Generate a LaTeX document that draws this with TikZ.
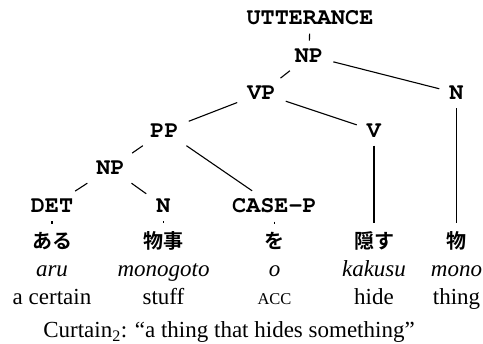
\documentclass[tikz,border=0pt]{standalone}
\usepackage{fontspec}
\setmainfont{Liberation Serif}
\newfontfamily\labfont{TeX Gyre Cursor}
\newfontfamily\jpfont{Noto Sans CJK JP}[BoldFont={Noto Sans CJK JP Bold}]
\begin{document}
\begin{tikzpicture}[x=1pt,y=-1pt,
  cat/.style={font=\labfont\bfseries\fontsize{23.5}{24}\selectfont, anchor=base, inner xsep=10pt, inner ysep=8pt},
  jp/.style={font=\jpfont\bfseries\fontsize{20}{20}\selectfont, anchor=base, inner sep=8pt},
  rom/.style={font=\itshape\fontsize{23}{24}\selectfont, anchor=base, inner sep=0pt},
  gl/.style={font=\fontsize{23}{24}\selectfont, anchor=base, inner sep=0pt},
  edge/.style={draw=black, line width=1.1pt}]
\useasboundingbox (0,0) rectangle (483,344);
\node[cat] (utt) at (310,25) {UTTERANCE};
\node[cat] (np1) at (309,62.5) {NP};
\node[cat] (vp) at (261.5,100) {VP};
\node[cat] (n1) at (456.5,100) {N};
\node[cat] (pp) at (164.5,137.5) {PP};
\node[cat] (v) at (374,137.5) {V};
\node[cat] (np2) at (110.5,175) {NP};
\node[cat] (det) at (52,213) {DET};
\node[cat] (n2) at (163.5,213) {N};
\node[cat] (casep) at (274.5,213) {CASE-P};
\node[jp] (w1) at (52,248.5) {ある};
\node[jp] (w2) at (163.5,248.5) {物事};
\node[jp] (w3) at (274.5,248.5) {を};
\node[jp] (w4) at (374,248.5) {隠す};
\node[jp] (w5) at (456.5,248.5) {物};
\node[rom] (r1) at (52,277) {aru};
\node[rom] (r2) at (163.5,277) {monogoto};
\node[rom] (r3) at (274.5,277) {o};
\node[rom] (r4) at (374,277) {kakusu};
\node[rom] (r5) at (456.5,277) {mono};
\node[gl] (g1) at (52,305) {a certain};
\node[gl] (g2) at (163.5,305) {stuff};
\node[gl, font=\fontsize{16.5}{17}\selectfont] (g3) at (274.5,305) {ACC};
\node[gl] (g4) at (374,305) {hide};
\node[gl] (g5) at (456.5,305) {thing};
\node[gl] (cap) at (229,338) {Curtain\textsubscript{2}: “a thing that hides something”};
\draw[edge] (utt) -- (np1);
\draw[edge] (np1) -- (vp);
\draw[edge] (np1) -- (n1);
\draw[edge] (vp) -- (pp);
\draw[edge] (vp) -- (v);
\draw[edge] (pp) -- (np2);
\draw[edge] (pp) -- (casep);
\draw[edge] (np2) -- (det);
\draw[edge] (np2) -- (n2);
\draw[edge] (det) -- (w1);
\draw[edge] (n2) -- (w2);
\draw[edge] (casep) -- (w3);
\draw[edge] (v) -- (w4);
\draw[edge] (n1) -- (w5);
\end{tikzpicture}
\end{document}
